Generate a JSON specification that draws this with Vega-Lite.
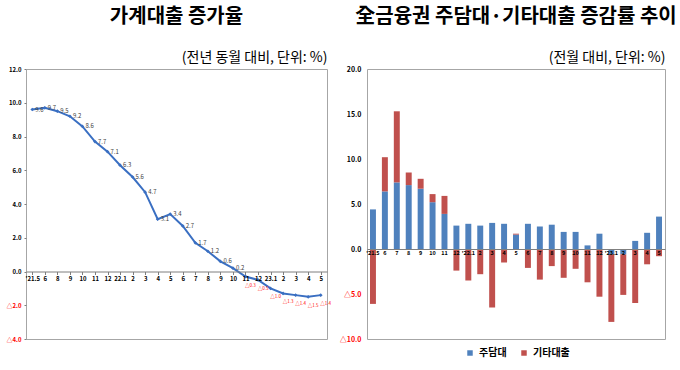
{
  "$schema": "https://vega.github.io/schema/vega-lite/v6.json",
  "padding": {"left": 5, "top": 6, "right": 4, "bottom": 2},
  "config": {
    "font": "Noto Sans CJK KR",
    "view": {"stroke": "#a6a6a6", "strokeWidth": 1},
    "axis": {"grid": false},
    "concat": {"spacing": 6},
    "title": {"font": "Noto Sans CJK KR", "fontSize": 20, "fontWeight": "bold", "color": "#000", "anchor": "middle"}
  },
  "resolve": {"scale": {"color": "independent"}, "legend": {"color": "independent"}},
  "hconcat": [
    {
      "width": 301,
      "height": 270,
      "title": {"text": "가계대출 증가율", "offset": 23},
      "data": {"values": [
        {"k": "01|'21.5", "v": 9.6}, {"k": "02|6", "v": 9.7}, {"k": "03|8", "v": 9.5}, {"k": "04|9", "v": 9.2},
        {"k": "05|10", "v": 8.6}, {"k": "06|11", "v": 7.7}, {"k": "07|12", "v": 7.1}, {"k": "08|22.1", "v": 6.3},
        {"k": "09|2", "v": 5.6}, {"k": "10|3", "v": 4.7}, {"k": "11|4", "v": 3.1}, {"k": "12|5", "v": 3.4},
        {"k": "13|6", "v": 2.7}, {"k": "14|7", "v": 1.7}, {"k": "15|8", "v": 1.2}, {"k": "16|9", "v": 0.6},
        {"k": "17|10", "v": 0.2}, {"k": "18|11", "v": -0.3}, {"k": "19|12", "v": -0.5}, {"k": "20|23.1", "v": -1.0},
        {"k": "21|2", "v": -1.3}, {"k": "22|3", "v": -1.4}, {"k": "23|4", "v": -1.5}, {"k": "24|5", "v": -1.4}
      ]},
      "resolve": {"axis": {"x": "independent", "y": "independent"}},
      "layer": [
        {
          "mark": {"type": "line", "color": "#3a6fc2", "strokeWidth": 2,
                   "point": {"shape": "diamond", "size": 14, "filled": true, "color": "#3a6fc2"}},
          "encoding": {
            "x": {"field": "k", "type": "ordinal", "sort": null,
                  "axis": {"orient": "bottom", "offset": -67.5, "title": null, "labelAngle": 0, "zindex": 1,
                           "labelExpr": "split(datum.value,'|')[1]", "labelFontSize": 6, "labelFontWeight": "bold",
                           "labelOverlap": false,
                           "labelColor": "#000", "labelPadding": 1, "domainColor": "#7f7f7f", "tickColor": "#7f7f7f",
                           "tickSize": 3}},
            "y": {"field": "v", "type": "quantitative", "scale": {"domain": [-4, 12], "nice": false},
                  "axis": {"title": null, "values": [-4, -2, 0, 2, 4, 6, 8, 10, 12], "domain": false,
                           "labelOverlap": false,
                           "tickSize": 2, "tickColor": "#7f7f7f", "labelFontSize": 6, "labelFontWeight": "bold",
                           "labelPadding": 3,
                           "labelExpr": "datum.value < 0 ? '△' + format(-datum.value, '.1f') : format(datum.value, '.1f')",
                           "labelColor": {"condition": {"test": "datum.value < 0", "value": "#ff0000"}, "value": "#000000"}}}
          }
        },
        {
          "transform": [{"filter": "datum.v >= 0"}],
          "mark": {"type": "text", "align": "left", "dx": 3, "dy": 0, "fontSize": 6, "color": "#404040"},
          "encoding": {
            "x": {"field": "k", "type": "ordinal", "sort": null,
                  "axis": {"orient": "top", "labels": false, "ticks": false, "domain": false,
                           "title": "(전년 동월 대비, 단위: %)", "titleAnchor": "end", "titleFontSize": 14,
                           "titleFontWeight": "normal", "titleColor": "#000", "titlePadding": 5}},
            "y": {"field": "v", "type": "quantitative", "axis": null},
            "text": {"field": "v", "type": "quantitative", "format": ".1f"}
          }
        },
        {
          "transform": [{"filter": "datum.v < 0"}, {"calculate": "'△' + format(-datum.v, '.1f')", "as": "lab"}],
          "mark": {"type": "text", "align": "center", "dx": 5, "dy": 9, "fontSize": 4.5, "color": "#ff0000"},
          "encoding": {
            "x": {"field": "k", "type": "ordinal", "sort": null, "axis": null},
            "y": {"field": "v", "type": "quantitative", "axis": null},
            "text": {"field": "lab"}
          }
        }
      ]
    },
    {
      "width": 298,
      "height": 270,
      "title": {"text": "全금융권 주담대·기타대출 증감률 추이", "offset": 23},
      "data": {"values": [
        {"k": "01|'21.5", "type": "주담대", "v": 4.4}, {"k": "01|'21.5", "type": "기타대출", "v": -6.1},
        {"k": "02|6", "type": "주담대", "v": 6.4}, {"k": "02|6", "type": "기타대출", "v": 3.8},
        {"k": "03|7", "type": "주담대", "v": 7.4}, {"k": "03|7", "type": "기타대출", "v": 7.9},
        {"k": "04|8", "type": "주담대", "v": 7.1}, {"k": "04|8", "type": "기타대출", "v": 1.4},
        {"k": "05|9", "type": "주담대", "v": 6.7}, {"k": "05|9", "type": "기타대출", "v": 1.1},
        {"k": "06|10", "type": "주담대", "v": 5.2}, {"k": "06|10", "type": "기타대출", "v": 0.9},
        {"k": "07|11", "type": "주담대", "v": 3.9}, {"k": "07|11", "type": "기타대출", "v": 2.0},
        {"k": "08|12", "type": "주담대", "v": 2.6}, {"k": "08|12", "type": "기타대출", "v": -2.4},
        {"k": "09|'22.1", "type": "주담대", "v": 2.8}, {"k": "09|'22.1", "type": "기타대출", "v": -3.5},
        {"k": "10|2", "type": "주담대", "v": 2.6}, {"k": "10|2", "type": "기타대출", "v": -2.8},
        {"k": "11|3", "type": "주담대", "v": 2.9}, {"k": "11|3", "type": "기타대출", "v": -6.5},
        {"k": "12|4", "type": "주담대", "v": 2.8}, {"k": "12|4", "type": "기타대출", "v": -1.5},
        {"k": "13|5", "type": "주담대", "v": 1.6}, {"k": "13|5", "type": "기타대출", "v": 0.1},
        {"k": "14|6", "type": "주담대", "v": 2.8}, {"k": "14|6", "type": "기타대출", "v": -2.1},
        {"k": "15|7", "type": "주담대", "v": 2.5}, {"k": "15|7", "type": "기타대출", "v": -3.4},
        {"k": "16|8", "type": "주담대", "v": 2.7}, {"k": "16|8", "type": "기타대출", "v": -1.9},
        {"k": "17|9", "type": "주담대", "v": 1.9}, {"k": "17|9", "type": "기타대출", "v": -3.2},
        {"k": "18|10", "type": "주담대", "v": 1.9}, {"k": "18|10", "type": "기타대출", "v": -2.2},
        {"k": "19|11", "type": "주담대", "v": 0.4}, {"k": "19|11", "type": "기타대출", "v": -3.7},
        {"k": "20|12", "type": "주담대", "v": 1.7}, {"k": "20|12", "type": "기타대출", "v": -5.3},
        {"k": "21|'23.1", "type": "주담대", "v": -0.6}, {"k": "21|'23.1", "type": "기타대출", "v": -7.5},
        {"k": "22|2", "type": "주담대", "v": -0.6}, {"k": "22|2", "type": "기타대출", "v": -4.5},
        {"k": "23|3", "type": "주담대", "v": 0.9}, {"k": "23|3", "type": "기타대출", "v": -6.0},
        {"k": "24|4", "type": "주담대", "v": 1.8}, {"k": "24|4", "type": "기타대출", "v": -1.7},
        {"k": "25|5", "type": "주담대", "v": 3.6}, {"k": "25|5", "type": "기타대출", "v": -0.8}
      ]},
      "resolve": {"axis": {"x": "independent"}},
      "layer": [
        {
          "mark": {"type": "bar"},
          "encoding": {
            "x": {"field": "k", "type": "ordinal", "sort": null,
                  "scale": {"paddingInner": 0.5, "paddingOuter": 0.25},
                  "axis": {"orient": "bottom", "offset": -90, "title": null, "labelAngle": 0, "zindex": 1,
                           "labelExpr": "split(datum.value,'|')[1]", "labelFontSize": 5.5, "labelFontWeight": "bold",
                           "labelOverlap": false,
                           "labelColor": "#000", "labelPadding": 1, "domainColor": "#7f7f7f", "ticks": false}},
            "y": {"field": "v", "type": "quantitative", "stack": "zero",
                  "scale": {"domain": [-10, 20], "nice": false},
                  "axis": {"title": null, "values": [-10, -5, 0, 5, 10, 15, 20], "domain": false,
                           "labelOverlap": false,
                           "ticks": false, "labelFontSize": 7, "labelFontWeight": "bold", "labelPadding": 6,
                           "labelExpr": "datum.value < 0 ? '△' + format(-datum.value, '.1f') : format(datum.value, '.1f')",
                           "labelColor": {"condition": {"test": "datum.value < 0", "value": "#ff0000"}, "value": "#000000"}}},
            "color": {"field": "type", "type": "nominal", "sort": ["주담대", "기타대출"],
                      "scale": {"domain": ["주담대", "기타대출"], "range": ["#4f81bd", "#c0504d"]},
                      "legend": {"orient": "none", "legendX": 98, "legendY": 279, "direction": "horizontal",
                                 "title": null, "symbolType": "square",
                                 "symbolSize": 30, "labelFontSize": 10, "labelFontWeight": "bold",
                                 "columnPadding": 12}}
          }
        },
        {
          "mark": {"type": "text", "text": ""},
          "encoding": {
            "x": {"field": "k", "type": "ordinal", "sort": null,
                  "axis": {"orient": "top", "labels": false, "ticks": false, "domain": false,
                           "title": "(전월 대비, 단위: %)", "titleAnchor": "end", "titleFontSize": 14,
                           "titleFontWeight": "normal", "titleColor": "#000", "titlePadding": 5}}
          }
        }
      ]
    }
  ]
}
